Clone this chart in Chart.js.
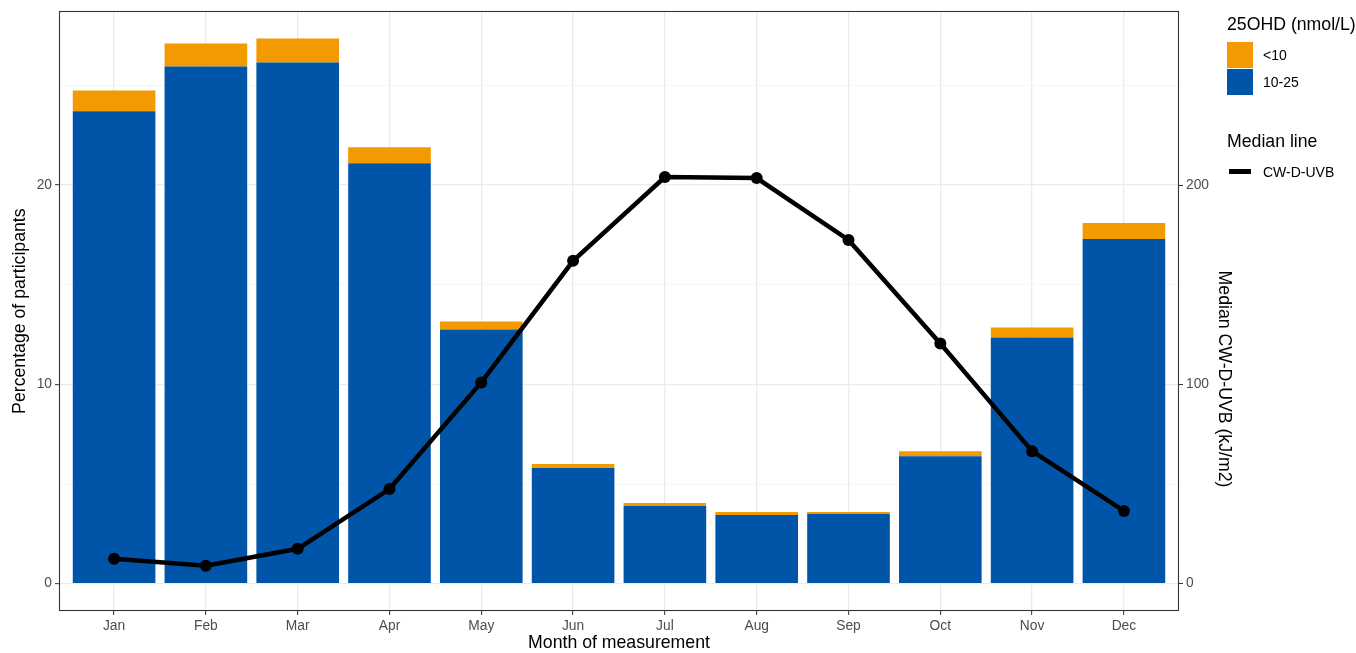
<!DOCTYPE html>
<html>
<head>
<meta charset="utf-8">
<script src="https://cdn.jsdelivr.net/npm/chart.js@4.4.1/dist/chart.umd.min.js"></script>
<style>
  html, body { margin: 0; padding: 0; background: #fff; }
  #wrap { position: relative; width: 1356px; height: 653px; font-family: "Liberation Sans", Arial, sans-serif; }
  canvas { position: absolute; left: 0; top: 0; }
  .lg { position: absolute; color: #000; white-space: nowrap; line-height: normal; }
  .lg-title { font-size: 17.7px; }
  .lg-lab { font-size: 14px; }
  .key { position: absolute; width: 26px; height: 26px; }
</style>
</head>
<body>
<div id="wrap">
  <canvas id="c" width="1356" height="653"></canvas>
  <div class="lg lg-title" style="left:1227px; top:14px;">25OHD (nmol/L)</div>
  <div class="key" style="left:1227px; top:42px; background:#F29A00;"></div>
  <div class="key" style="left:1227px; top:69px; background:#0055A8;"></div>
  <div class="lg lg-lab" style="left:1263px; top:47px;">&lt;10</div>
  <div class="lg lg-lab" style="left:1263px; top:74px;">10-25</div>
  <div class="lg lg-title" style="left:1227px; top:131px;">Median line</div>
  <div style="position:absolute; left:1229px; top:169px; width:22px; height:5px; background:#000;"></div>
  <div class="lg lg-lab" style="left:1263px; top:164px;">CW-D-UVB</div>
</div>
<script>
// Months of measurement
const months = ['Jan','Feb','Mar','Apr','May','Jun','Jul','Aug','Sep','Oct','Nov','Dec'];
// Percentage of participants, 25OHD 10-25 nmol/L
const pct10to25 = [23.7, 25.95, 26.15, 21.1, 12.75, 5.8, 3.9, 3.45, 3.5, 6.4, 12.35, 17.3];
// Percentage of participants, 25OHD <10 nmol/L
const pctBelow10 = [1.05, 1.15, 1.2, 0.8, 0.4, 0.2, 0.15, 0.15, 0.1, 0.25, 0.5, 0.8];
// Median cumulative weighted D-UVB (kJ/m2)
const medianUVB = [12.5, 9, 17.5, 47.5, 101, 162, 204, 203.5, 172.5, 120.5, 66.5, 36.5];
// Axis ticks
const leftTicks = [0, 5, 10, 15, 20, 25];
const rightTicks = [0, 100, 200];
const rightTitle = 'Median CW-D-UVB (kJ/m2)';

const FONT = '"Liberation Sans", Arial, sans-serif';
const TITLE_SIZE = 17.7;
const TICK_SIZE = 13.8;
const toXY = arr => arr.map((v, i) => ({ x: i + 1, y: v }));

// Panel frame around the plotting area
const panelBorder = {
  id: 'panelBorder',
  afterDatasetsDraw(chart) {
    const a = chart.chartArea, ctx = chart.ctx;
    ctx.save();
    ctx.strokeStyle = '#333333';
    ctx.lineWidth = 1.1;
    ctx.strokeRect(Math.round(a.left) + 0.5, Math.round(a.top) + 0.5,
                   Math.round(a.right - a.left) - 1, Math.round(a.bottom - a.top) - 1);
    ctx.restore();
  }
};

// Secondary axis title, rotated to read top to bottom
const secondaryTitle = {
  id: 'secondaryTitle',
  afterDraw(chart) {
    const ctx = chart.ctx;
    ctx.save();
    ctx.translate(1224, 379);
    ctx.rotate(Math.PI / 2);
    ctx.fillStyle = '#000';
    ctx.font = TITLE_SIZE + 'px ' + FONT;
    ctx.textAlign = 'center';
    ctx.textBaseline = 'middle';
    ctx.fillText(rightTitle, 0, 0);
    ctx.restore();
  }
};

new Chart(document.getElementById('c'), {
  data: {
    datasets: [
      {
        type: 'line', label: 'CW-D-UVB', yAxisID: 'y1', order: 1,
        data: toXY(medianUVB),
        borderColor: '#000', backgroundColor: '#000', borderWidth: 4.5,
        pointRadius: 6, pointBackgroundColor: '#000', pointBorderWidth: 0,
        tension: 0, stack: 'uvb'
      },
      {
        type: 'bar', label: '10-25', yAxisID: 'y', order: 2,
        data: toXY(pct10to25), backgroundColor: '#0055A8', stack: 'pct',
        barPercentage: 0.9, categoryPercentage: 1
      },
      {
        type: 'bar', label: '<10', yAxisID: 'y', order: 2,
        data: toXY(pctBelow10), backgroundColor: '#F29A00', stack: 'pct',
        barPercentage: 0.9, categoryPercentage: 1
      }
    ]
  },
  options: {
    responsive: false,
    animation: false,
    layout: { padding: { top: 10, right: 120, left: 0, bottom: 0 } },
    plugins: { legend: { display: false }, tooltip: { enabled: false } },
    scales: {
      x: {
        type: 'linear', min: 0.4, max: 12.6, stacked: true, offset: false,
        afterBuildTicks: s => { s.ticks = months.map((m, i) => ({ value: i + 1 })); },
        afterFit: s => { s.height = 42; },
        ticks: {
          autoSkip: false, maxRotation: 0, padding: 3,
          color: '#4D4D4D', font: { family: FONT, size: TICK_SIZE },
          callback: v => months[Math.round(v) - 1]
        },
        grid: { offset: false, color: '#EBEBEB', lineWidth: 1.3, tickColor: '#333333', tickLength: 4, tickWidth: 1 },
        border: { display: false },
        title: { display: true, text: 'Month of measurement', color: '#000',
                 font: { family: FONT, size: TITLE_SIZE }, padding: { top: 0, bottom: -1 } }
      },
      y: {
        type: 'linear', position: 'left', min: -1.37, max: 28.72, stacked: true,
        afterBuildTicks: s => { s.ticks = leftTicks.map(v => ({ value: v })); },
        afterFit: s => { s.width = 59; },
        ticks: {
          padding: 3, color: '#4D4D4D', font: { family: FONT, size: TICK_SIZE },
          callback: v => (v % 10 === 0 ? String(v) : '')
        },
        grid: {
          color: c => (c.tick && c.tick.value % 10 === 0 ? '#EBEBEB' : '#F4F4F4'),
          lineWidth: c => (c.tick && c.tick.value % 10 === 0 ? 1.3 : 0.8),
          tickColor: c => (c.tick && c.tick.value % 10 === 0 ? '#333333' : 'rgba(0,0,0,0)'),
          tickLength: 4, tickWidth: 1
        },
        border: { display: false },
        title: { display: true, text: 'Percentage of participants', color: '#000',
                 font: { family: FONT, size: TITLE_SIZE }, padding: { top: 9, bottom: 0 } }
      },
      y1: {
        type: 'linear', position: 'right', min: -13.7, max: 287.2,
        afterBuildTicks: s => { s.ticks = rightTicks.map(v => ({ value: v })); },
        afterFit: s => { s.width = 57; },
        ticks: { padding: 3, color: '#4D4D4D', font: { family: FONT, size: TICK_SIZE } },
        grid: { drawOnChartArea: false, tickColor: '#333333', tickLength: 4, tickWidth: 1 },
        border: { display: false }
      }
    }
  },
  plugins: [panelBorder, secondaryTitle]
});
</script>
</body>
</html>
